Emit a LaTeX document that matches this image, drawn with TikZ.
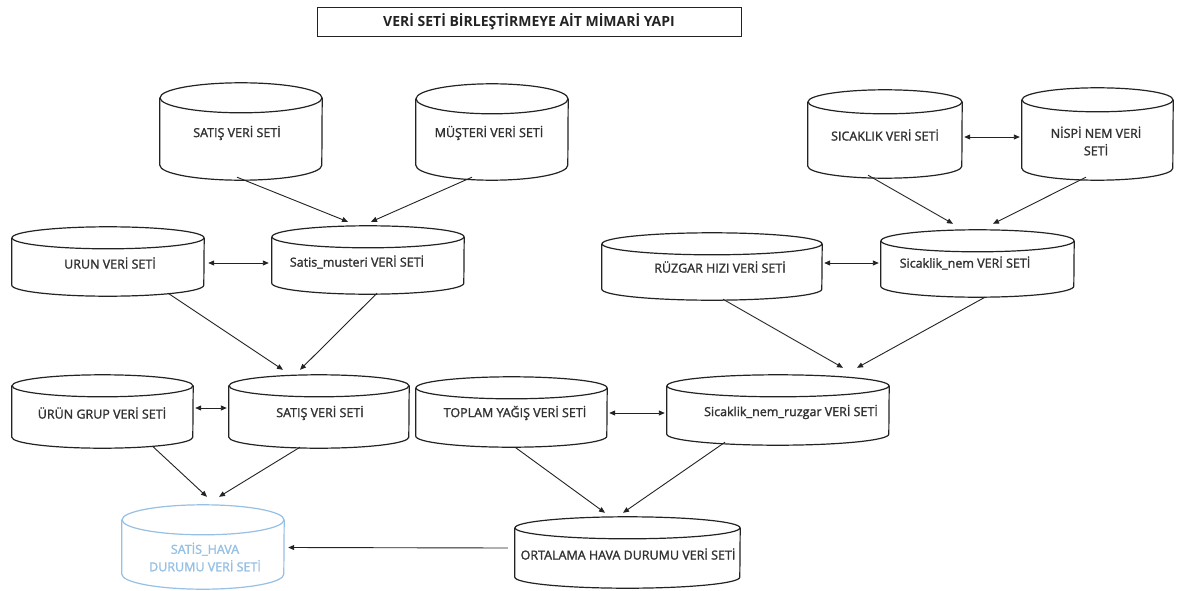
\documentclass[tikz,border=0pt]{standalone}
\usepackage{fontspec}
\setmainfont{Open Sans}
\newfontfamily\lblfont{Open Sans}[FakeBold=1.6]
\usetikzlibrary{arrows.meta,calc}
\definecolor{ink}{RGB}{35,35,35}
\definecolor{txt}{RGB}{50,50,50}
\definecolor{pale}{RGB}{150,192,228}

\tikzset{
  cylbox/.style={rectangle, inner sep=0pt, draw=none},
  cylline/.style={draw=ink, line width=1.2pt},
  lbl/.style={font=\lblfont\fontsize{12.5}{17.5}\selectfont, text=txt, inner sep=0pt, align=center},
  arr/.style={draw=ink, line width=0.9pt, -{Triangle[length=6pt,width=5pt]}},
  darr/.style={draw=ink, line width=0.9pt, {Triangle[length=6pt,width=5pt]}-{Triangle[length=6pt,width=5pt]}},
}

% database cylinder: [style] name, left, top, right, bottom, ellipse half-height
\newcommand\dbcyl[7][]{%
  \node[cylbox, minimum width={(#5-#3)*1pt}, minimum height={(#6-#4)*1pt}] (#2) at ({(#3+#5)/2},{-(#4+#6)/2}) {};
  \draw[cylline,#1] ([yshift=-#7pt]#2.north) ellipse [x radius={(#5-#3)/2}, y radius=#7];
  \draw[cylline,#1] ([yshift=-#7pt]#2.north west) -- ([yshift=#7pt]#2.south west)
      arc[start angle=180, end angle=360, x radius={(#5-#3)/2}, y radius=#7]
      -- ([yshift=-#7pt]#2.north east);
}

\begin{document}
\begin{tikzpicture}[x=1pt,y=1pt]
\fill[white] (0,0) rectangle (1177,-591);
\useasboundingbox (0,0) rectangle (1177,-591);

% title
\node[draw=ink, line width=0.9pt, minimum width=424pt, minimum height=29pt, inner sep=0pt,
      font=\bfseries\fontsize{14}{16}\selectfont, text=ink] (title) at (529,-21.5)
      {VERİ SETİ BİRLEŞTİRMEYE AİT MİMARİ YAPI};

% cylinders
\dbcyl{satisA}{160}{83}{322}{180}{15}
\dbcyl{musteri}{416}{84}{568}{180}{15}
\dbcyl{sicaklik}{808}{90}{962}{178}{12}
\dbcyl{nispi}{1022}{88}{1173}{180}{12}
\dbcyl{urun}{12}{227}{204}{296}{11}
\dbcyl{satmus}{272}{226}{464}{294}{11}
\dbcyl{ruzgar}{602}{233}{822}{300}{11}
\dbcyl{sicnem}{881}{230}{1074}{297}{11}
\dbcyl{urungrup}{12}{375}{193}{448}{11}
\dbcyl{satisB}{229}{375}{409}{448}{11}
\dbcyl{toplam}{416}{377}{607}{447}{11}
\dbcyl{snr}{667}{375}{889}{445}{11}
\dbcyl[draw=pale]{satishava}{122}{505}{284}{589}{15}
\dbcyl{ortalama}{515}{517}{740}{588}{11}

% labels
\node[lbl] (satisA-t) at (237,-133) {SATIŞ VERİ SETİ};
\node[lbl] (musteri-t) at (489,-133) {MÜŞTERİ VERİ SETİ};
\node[lbl] (sicaklik-t) at (885,-135) {SICAKLIK VERİ SETİ};
\node[lbl] (nispi-t) at (1096,-141) {NİSPİ NEM VERİ\\SETİ};
\node[lbl] (urun-t) at (110,-263) {URUN VERİ SETİ};
\node[lbl] (satmus-t) at (357,-262) {Satis\_musteri VERİ SETİ};
\node[lbl] (ruzgar-t) at (720,-267) {RÜZGAR HIZI VERİ SETİ};
\node[lbl] (sicnem-t) at (965,-263) {Sicaklik\_nem VERİ SETİ};
\node[lbl] (urungrup-t) at (102,-413) {ÜRÜN GRUP VERİ SETİ};
\node[lbl] (satisB-t) at (320,-413) {SATIŞ VERİ SETİ};
\node[lbl] (toplam-t) at (515,-413) {TOPLAM YAĞIŞ VERİ SETİ};
\node[lbl] (snr-t) at (791,-412) {Sicaklik\_nem\_ruzgar VERİ SETİ};
\node[lbl, text=pale] (satishava-t) at (205,-557) {SATİS\_HAVA\\DURUMU VERİ SETİ};
\node[lbl] (ortalama-t) at (628,-554) {ORTALAMA HAVA DURUMU VERİ SETİ};

% connectors
\draw[arr] ([shift={(-4,3)}]satisA.south) -- ([shift={(-20,4)}]satmus.north);
\draw[arr] ([shift={(-20,3)}]musteri.south) -- ([shift={(3,4)}]satmus.north);
\draw[darr] ([shift={(4,-1.5)}]urun.east) -- ([shift={(-3,-3)}]satmus.west);
\draw[arr] ([shift={(60,3)}]urun.south) -- ([shift={(-36,5)}]satisB.north);
\draw[arr] ([shift={(9,1)}]satmus.south) -- ([shift={(-19,5)}]satisB.north);
\draw[darr] ([shift={(2,3.5)}]urungrup.east) -- ([shift={(-2,3.5)}]satisB.west);
\draw[arr] ([shift={(50,2)}]urungrup.south) -- ([shift={(4,8)}]satishava.north);
\draw[arr] ([shift={(-19,1)}]satisB.south) -- ([shift={(16,8)}]satishava.north);
\draw[darr] ([shift={(2,-3)}]sicaklik.east) -- ([shift={(-2,-3)}]nispi.west);
\draw[arr] ([shift={(-17,3)}]sicaklik.south) -- ([shift={(-24.5,6)}]sicnem.north);
\draw[arr] ([shift={(-11.5,3)}]nispi.south) -- ([shift={(15.5,6)}]sicnem.north);
\draw[darr] ([shift={(2,3.5)}]ruzgar.east) -- ([shift={(-2,0.5)}]sicnem.west);
\draw[arr] ([shift={(11,1)}]ruzgar.south) -- ([shift={(65,7)}]snr.north);
\draw[arr] ([shift={(7.5,0)}]sicnem.south) -- ([shift={(79,7)}]snr.north);
\draw[darr] ([shift={(2,-1)}]toplam.east) -- ([shift={(-2,-3)}]snr.west);
\draw[arr] ([shift={(3.5,0)}]toplam.south) -- ([shift={(-22.5,4)}]ortalama.north);
\draw[arr] ([shift={(-53,3)}]snr.south) -- ([shift={(-4.5,4)}]ortalama.north);
\draw[arr] ([shift={(-7,4.5)}]ortalama.west) -- ([shift={(4,-0.5)}]satishava.east);
\end{tikzpicture}
\end{document}
